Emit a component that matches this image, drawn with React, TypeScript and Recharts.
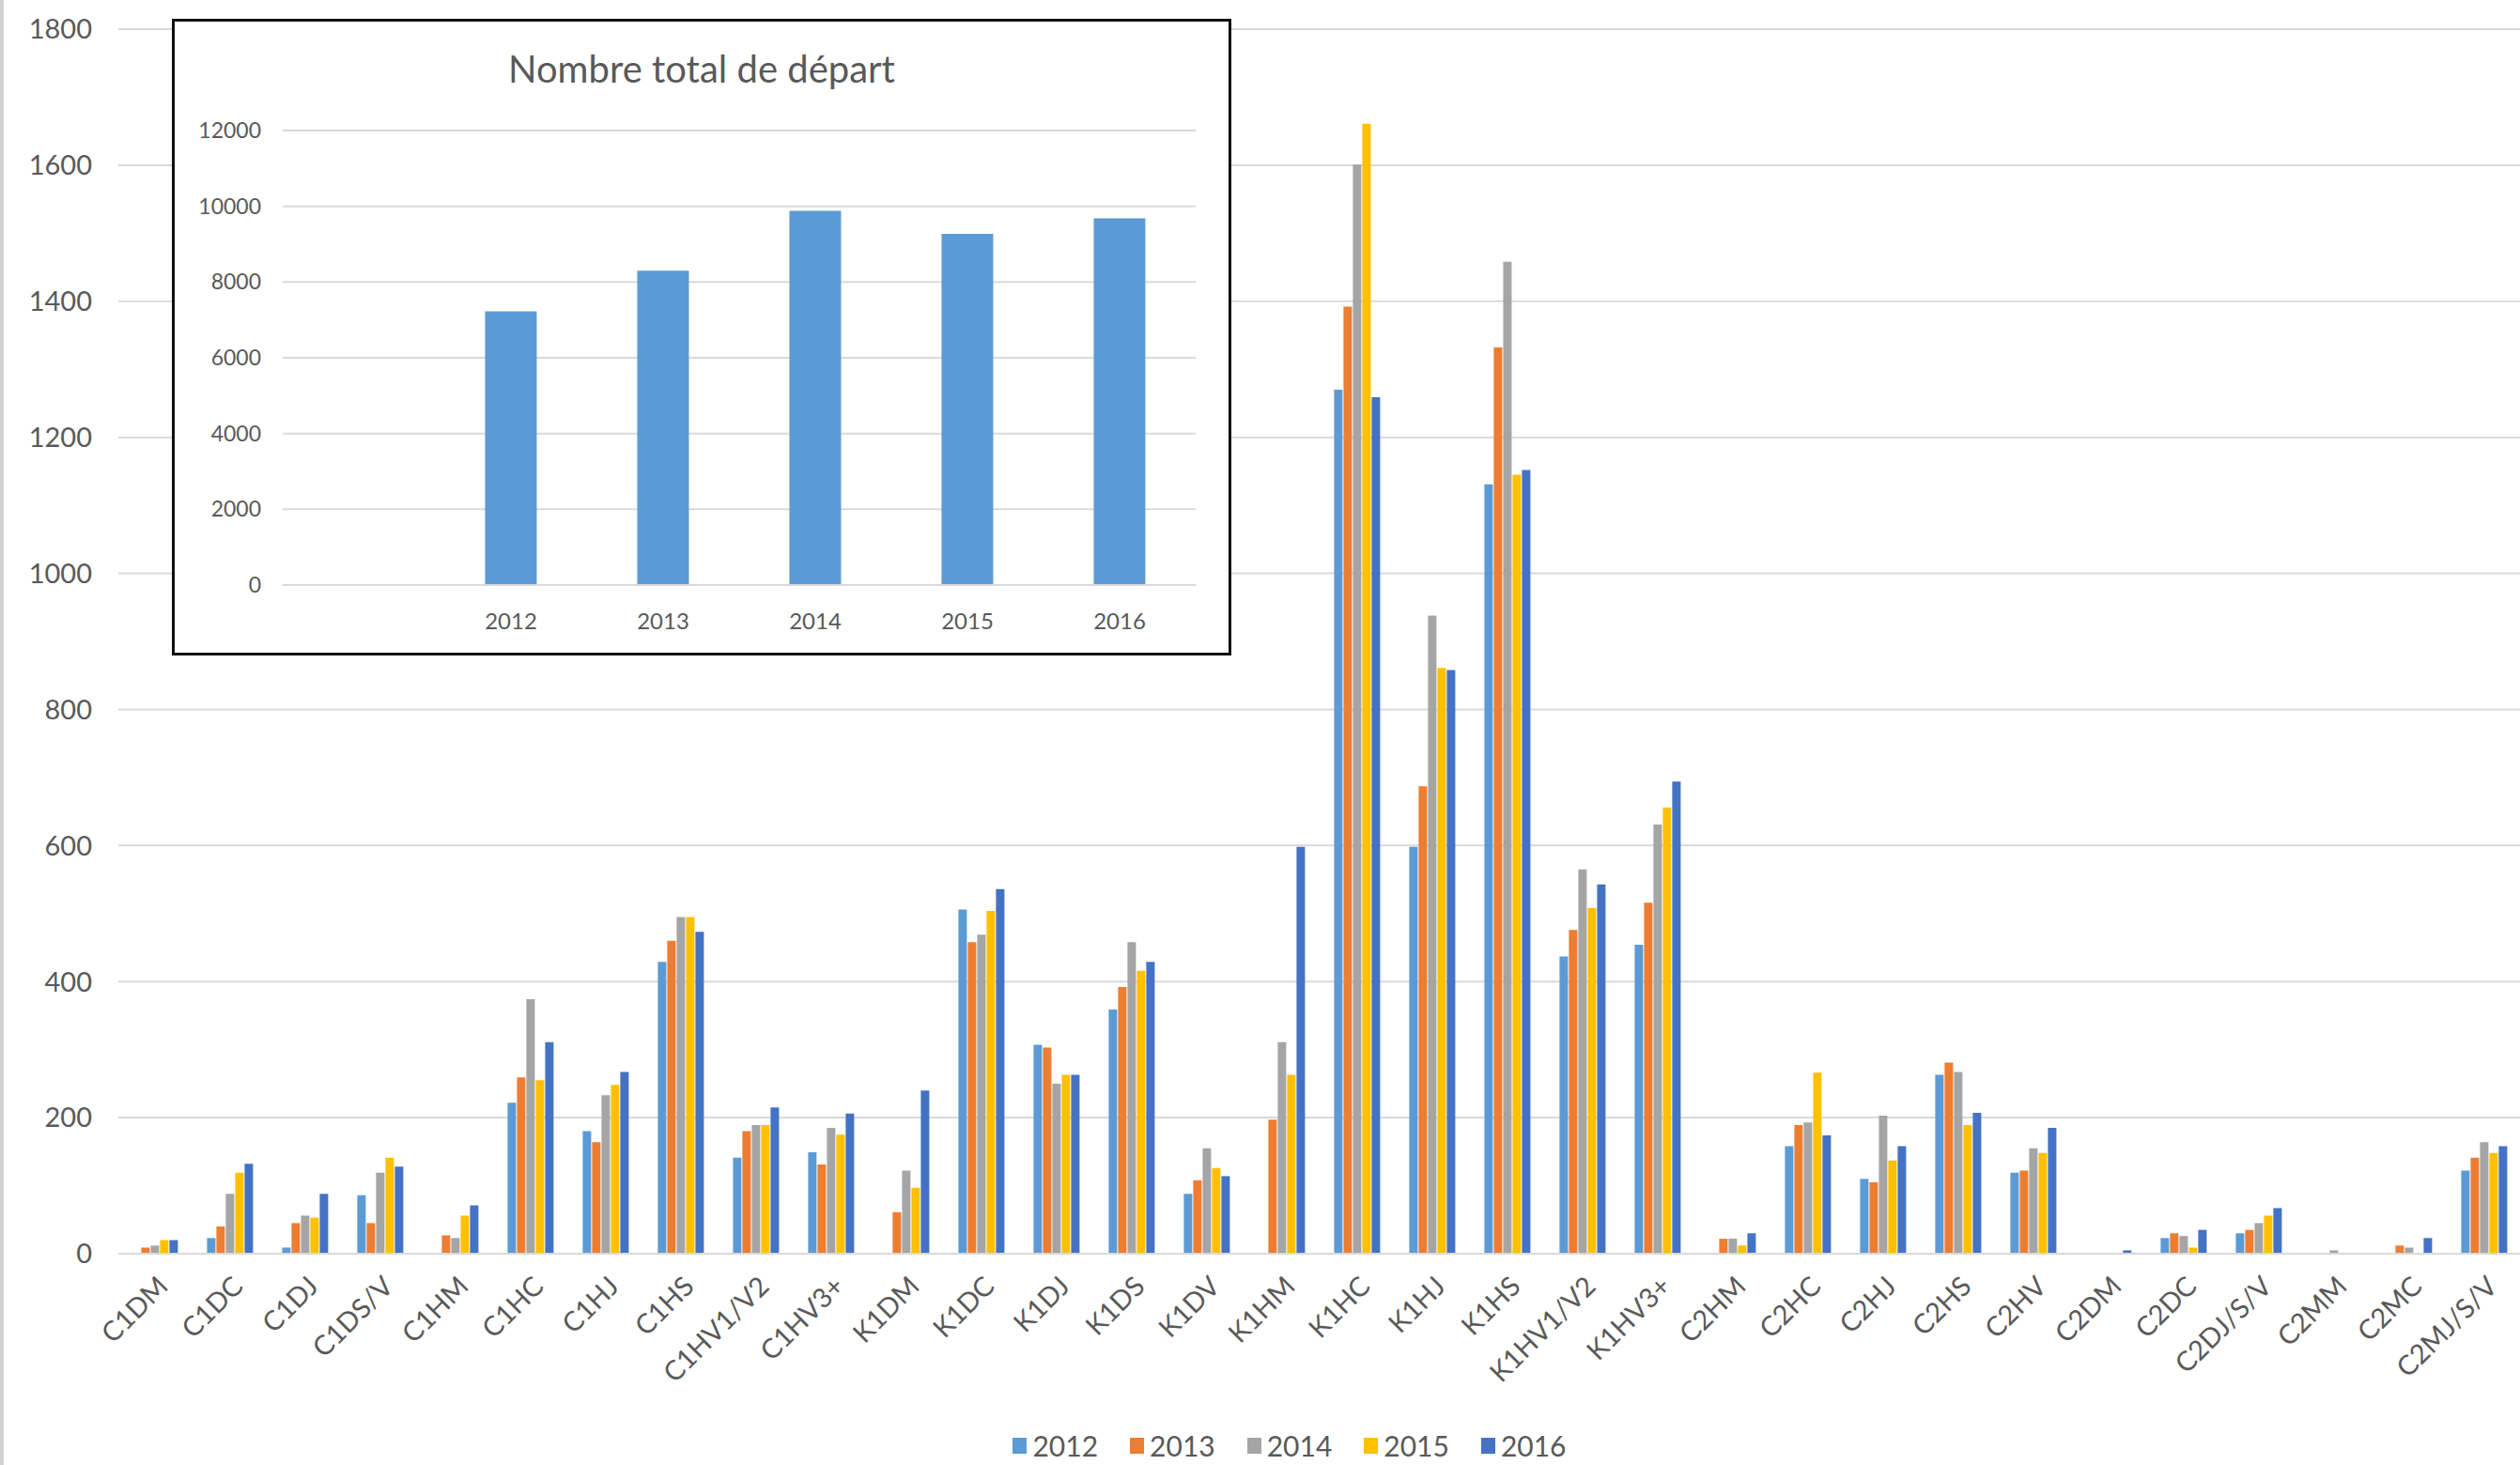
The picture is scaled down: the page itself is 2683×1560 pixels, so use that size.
import React from 'react'
import {
  BarChart,
  Bar,
  XAxis,
  YAxis,
  CartesianGrid,
  Legend,
} from 'recharts'

const categories = [
  'C1DM', 'C1DC', 'C1DJ', 'C1DS/V', 'C1HM', 'C1HC', 'C1HJ', 'C1HS', 'C1HV1/V2', 'C1HV3+',
  'K1DM', 'K1DC', 'K1DJ', 'K1DS', 'K1DV', 'K1HM', 'K1HC', 'K1HJ', 'K1HS', 'K1HV1/V2', 'K1HV3+',
  'C2HM', 'C2HC', 'C2HJ', 'C2HS', 'C2HV', 'C2DM', 'C2DC', 'C2DJ/S/V', 'C2MM', 'C2MC', 'C2MJ/S/V',
]

const v2012 = [0, 23, 9, 86, 0, 222, 180, 429, 141, 149, 0, 506, 307, 359, 88, 0, 1270, 598, 1131, 437, 454, 0, 158, 110, 263, 119, 1, 23, 30, 0, 0, 122]
const v2013 = [9, 40, 45, 45, 27, 259, 164, 460, 180, 131, 61, 458, 303, 392, 108, 197, 1392, 687, 1332, 476, 516, 22, 189, 105, 281, 122, 1, 30, 35, 0, 12, 141]
const v2014 = [12, 88, 56, 119, 23, 374, 233, 495, 189, 185, 122, 469, 250, 458, 155, 311, 1601, 938, 1458, 565, 631, 22, 193, 203, 267, 155, 1, 26, 45, 5, 9, 164]
const v2015 = [20, 119, 53, 141, 56, 255, 248, 495, 189, 175, 97, 504, 263, 416, 126, 263, 1661, 861, 1145, 508, 656, 12, 266, 137, 189, 148, 1, 9, 56, 0, 0, 148]
const v2016 = [20, 132, 88, 128, 71, 311, 267, 473, 215, 206, 240, 536, 263, 429, 114, 598, 1259, 858, 1152, 543, 694, 30, 174, 158, 207, 185, 5, 35, 67, 1, 23, 158]

const yTicks = [0, 200, 400, 600, 800, 1000, 1200, 1400, 1600, 1800]

// inset: total departures per year (first column is blank in the source sheet)
const totalYears = ['', '2012', '2013', '2014', '2015', '2016']
const totalValues = [null, 7230, 8300, 9880, 9270, 9680]
const totalTicks = [0, 2000, 4000, 6000, 8000, 10000, 12000]

const years = ['2012', '2013', '2014', '2015', '2016']
const COLORS = ['#5B9BD5', '#ED7D31', '#A5A5A5', '#FFC000', '#4472C4']

const data = categories.map((c, i) => ({
  name: c,
  '2012': v2012[i],
  '2013': v2013[i],
  '2014': v2014[i],
  '2015': v2015[i],
  '2016': v2016[i],
}))

const totalData = totalYears.map((y, i) => ({ name: y, total: totalValues[i] }))

const FONT = 'Lato, "Noto Sans", sans-serif'
const TEXT = '#595959'

const renderLegend = () => (
  <div
    style={{
      display: 'flex',
      justifyContent: 'center',
      gap: 34,
      paddingLeft: 60,
      paddingTop: 3,
      fontSize: 30,
      lineHeight: 1.1,
      color: TEXT,
      fontFamily: FONT,
    }}
  >
    {years.map((y, i) => (
      <span key={y} style={{ display: 'flex', alignItems: 'center' }}>
        <span
          style={{
            display: 'inline-block',
            width: 15,
            height: 17,
            background: COLORS[i],
            marginRight: 6,
          }}
        />
        {y}
      </span>
    ))}
  </div>
)

export default function App() {
  return (
    <div
      style={{
        position: 'relative',
        width: 2683,
        height: 1560,
        overflow: 'hidden',
        background: '#fff',
        fontFamily: FONT,
      }}
    >
      <style>{'body{margin:0}'}</style>
      <div
        style={{
          position: 'absolute',
          left: 0,
          top: 0,
          width: 4,
          height: 1560,
          background: '#d0d0d0',
        }}
      />
      <BarChart
        width={2686}
        height={1560}
        data={data}
        margin={{ top: 31, right: 0, bottom: 0, left: 0 }}
        barCategoryGap="18%"
        barGap={1}
      >
        <CartesianGrid vertical={false} stroke="#d9d9d9" strokeWidth={2} />
        <XAxis
          dataKey="name"
          interval={0}
          height={185}
          angle={-45}
          textAnchor="end"
          tickLine={false}
          axisLine={{ stroke: '#d9d9d9', strokeWidth: 2 }}
          tickSize={0}
          tickMargin={22}
          tick={{ fontSize: 29, fill: TEXT, fontFamily: FONT }}
        />
        <YAxis
          width={126}
          domain={[0, 1800]}
          ticks={yTicks}
          interval={0}
          axisLine={false}
          tickLine={false}
          tickSize={0}
          tickMargin={28}
          tick={{ fontSize: 29, fill: TEXT, fontFamily: FONT }}
        />
        <Legend verticalAlign="bottom" height={40} content={renderLegend} />
        {years.map((y, i) => (
          <Bar key={y} dataKey={y} fill={COLORS[i]} isAnimationActive={false} />
        ))}
      </BarChart>

      <div
        style={{
          position: 'absolute',
          left: 183,
          top: 20,
          width: 1122,
          height: 672,
          border: '3px solid #111',
          background: '#fff',
        }}
      >
        <div
          style={{
            position: 'absolute',
            top: 26,
            left: 0,
            width: '100%',
            textAlign: 'center',
            fontSize: 40,
            color: TEXT,
            fontFamily: FONT,
          }}
        >
          Nombre total de départ
        </div>
        <BarChart
          width={1122}
          height={672}
          data={totalData}
          margin={{ top: 116, right: 35, bottom: 0, left: 0 }}
          barCategoryGap="33%"
        >
          <CartesianGrid vertical={false} stroke="#d9d9d9" strokeWidth={2} />
          <XAxis
            dataKey="name"
            interval={0}
            height={72}
            tickLine={false}
            axisLine={{ stroke: '#d9d9d9', strokeWidth: 2 }}
            tickSize={0}
            tickMargin={30}
            tick={{ fontSize: 24, fill: TEXT, fontFamily: FONT }}
          />
          <YAxis
            width={115}
            domain={[0, 12000]}
            ticks={totalTicks}
            interval={0}
            axisLine={false}
            tickLine={false}
            tickSize={0}
            tickMargin={23}
            tick={{ fontSize: 23, fill: TEXT, fontFamily: FONT }}
          />
          <Bar dataKey="total" fill="#5B9BD5" isAnimationActive={false} />
        </BarChart>
      </div>
    </div>
  )
}
